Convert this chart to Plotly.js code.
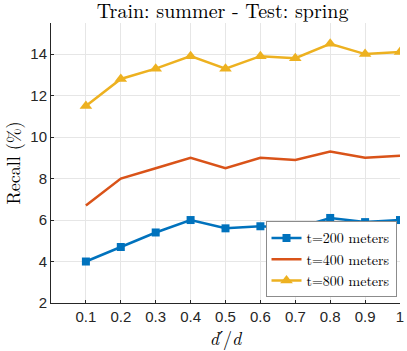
<!DOCTYPE html>
<html>
<head>
<meta charset="utf-8">
<script src="https://cdn.plot.ly/plotly-3.0.1.min.js"></script>
<style>
  html, body { margin: 0; padding: 0; background: #fff; }
  #plot { width: 407px; height: 351px; }
</style>
</head>
<body>
<div id="plot"></div>
<script>
const ratios = [0.1, 0.2, 0.3, 0.4, 0.5, 0.6, 0.7, 0.8, 0.9, 1.0];
const recall200 = [4.0, 4.7, 5.4, 6.0, 5.6, 5.7, 5.6, 6.1, 5.9, 6.0];
const recall400 = [6.7, 8.0, 8.5, 9.0, 8.5, 9.0, 8.9, 9.3, 9.0, 9.1];
const recall800 = [11.5, 12.8, 13.3, 13.9, 13.3, 13.9, 13.8, 14.5, 14.0, 14.1];
const seriesNames = ["t=200 meters", "t=400 meters", "t=800 meters"];
const xTicks = [0.1, 0.2, 0.3, 0.4, 0.5, 0.6, 0.7, 0.8, 0.9, 1];
const xTickText = ["0.1", "0.2", "0.3", "0.4", "0.5", "0.6", "0.7", "0.8", "0.9", "1"];
const yTicks = [2, 4, 6, 8, 10, 12, 14];

const serif = "'Latin Modern Roman', 'DejaVu Serif', serif";
const sans = "Arial, Liberation Sans, sans-serif";

const traces = [
  {
    type: "scatter", mode: "lines+markers",
    x: ratios, y: recall200, name: seriesNames[0],
    line: { color: "#0072BD", width: 2.5 },
    marker: { symbol: "square", size: 8, color: "#0072BD" }
  },
  {
    type: "scatter", mode: "lines",
    x: ratios, y: recall400, name: seriesNames[1],
    line: { color: "#D95319", width: 2.5 }
  },
  {
    type: "scatter", mode: "lines+markers",
    x: ratios, y: recall800, name: seriesNames[2],
    line: { color: "#EDB120", width: 2.5 },
    marker: { symbol: "triangle-up", size: 11, color: "#EDB120" }
  }
];

const layout = {
  width: 407, height: 351,
  margin: { l: 51, r: 7, t: 23, b: 48 },
  paper_bgcolor: "#fff",
  plot_bgcolor: "#fff",
  showlegend: true,
  title: {
    text: "Train: summer - Test: spring",
    font: { family: serif, size: 20, color: "#000" },
    x: 0.547, xanchor: "center", y: 0.968, yanchor: "middle"
  },
  xaxis: {
    range: [0, 1],
    tickvals: xTicks, ticktext: xTickText,
    tickfont: { family: sans, size: 15, color: "#262626" },
    showgrid: true, gridcolor: "#e6e6e6", gridwidth: 1,
    zeroline: false,
    showline: true, linecolor: "#262626", linewidth: 1,
    ticks: "inside", ticklen: 3, tickcolor: "#262626",
    title: { text: "<i>d′</i>/<i>d</i>", font: { family: serif, size: 18, color: "#000" }, standoff: 4 }
  },
  yaxis: {
    range: [2, 15.5],
    tickvals: yTicks,
    tickfont: { family: sans, size: 15, color: "#262626" },
    showgrid: true, gridcolor: "#e6e6e6", gridwidth: 1,
    zeroline: false,
    showline: true, linecolor: "#262626", linewidth: 1,
    ticks: "inside", ticklen: 3, tickcolor: "#262626",
    title: { text: "Recall (%)", font: { family: serif, size: 18, color: "#000" }, standoff: 6 }
  },
  legend: {
    x: 0.99, xanchor: "right",
    y: 0.02, yanchor: "bottom",
    bgcolor: "#fff",
    bordercolor: "#8c8c8c", borderwidth: 1,
    font: { family: serif, size: 14, color: "#000" },
    tracegroupgap: 0,
    itemwidth: 30
  }
};

// wait for the serif font so legend widths are measured right
document.fonts.load("15px 'Latin Modern Roman'").catch(() => null).then(() => {
  Plotly.newPlot("plot", traces, layout, { displayModeBar: false, staticPlot: true });
});
</script>
</body>
</html>
